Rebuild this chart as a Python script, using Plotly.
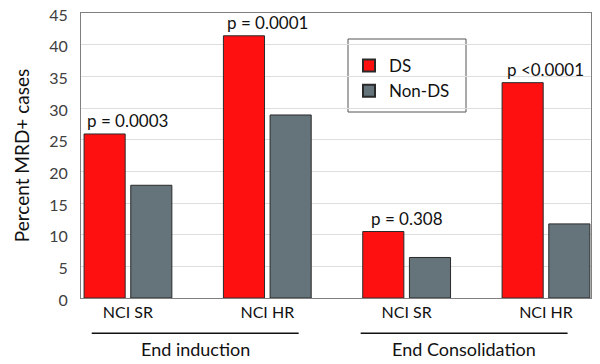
import plotly.graph_objects as go

groups = ["NCI SR", "NCI HR", "NCI SR", "NCI HR"]
phases = ["End induction", "End Consolidation"]
ds_values = [25.9, 41.4, 10.5, 34.0]
nonds_values = [17.8, 28.9, 6.4, 11.7]
p_labels = ["p = 0.0003", "p = 0.0001", "p = 0.308", "p <0.0001"]
yticks = [0, 5, 10, 15, 20, 25, 30, 35, 40, 45]

FONT = "Lato, Open Sans, sans-serif"
xpos = list(range(len(groups)))

fig = go.Figure()
fig.add_trace(go.Bar(
    x=xpos, y=ds_values, name="DS",
    marker=dict(color="#FF1010", line=dict(color="#2a2a2a", width=1)),
    width=0.295, offset=-0.315,
))
fig.add_trace(go.Bar(
    x=xpos, y=nonds_values, name="Non-DS",
    marker=dict(color="#65737A", line=dict(color="#2a2a2a", width=1)),
    width=0.295, offset=0.02,
))

for i, (v, t) in enumerate(zip(ds_values, p_labels)):
    fig.add_annotation(x=i, y=v, text=t, showarrow=False, yanchor="bottom",
                       yshift=1, font=dict(size=17, color="#111111", family=FONT))

# phase labels and underline bars
phase_spans = [(-0.26, 1.225), (1.67, 3.155)]
for (a, b), name in zip(phase_spans, phases):
    fig.add_shape(type="line", xref="x", yref="paper", x0=a, x1=b, y0=-0.124, y1=-0.124,
                  line=dict(color="#111111", width=1.5))
    fig.add_annotation(x=(a + b) / 2, xref="x", y=-0.18, yref="paper", text=name,
                       showarrow=False, yanchor="middle",
                       font=dict(size=18, color="#111111", family=FONT))

# legend box
fig.add_shape(type="rect", xref="paper", yref="paper",
              x0=(348 - 81) / 510, x1=(466 - 81) / 510,
              y0=(298 - 112) / 285, y1=(298 - 39) / 285,
              line=dict(color="#555555", width=1), fillcolor="white", layer="below")

# the page body adds an 8px offset; margins compensate so the plot lands in place
fig.update_layout(
    width=600, height=364,
    margin=dict(l=73, r=17, t=5, b=74, autoexpand=False),
    paper_bgcolor="white", plot_bgcolor="white",
    font=dict(family=FONT, color="#404040"),
    barmode="group",
    showlegend=True,
    legend=dict(x=(349 - 81) / 510, y=(298 - 48) / 285, xanchor="left", yanchor="top",
                bgcolor="rgba(0,0,0,0)", borderwidth=0,
                font=dict(size=17, color="#111111", family=FONT),
                tracegroupgap=0, itemsizing="constant"),
    xaxis=dict(range=[-0.337, 3.323], tickvals=xpos, ticktext=groups,
               tickfont=dict(size=16, color="#111111"), showgrid=False,
               showline=True, linecolor="#7f7f7f", linewidth=1, mirror=True,
               ticks="", ticklen=0, zeroline=False, automargin=False),
    yaxis=dict(range=[0, 45], tickvals=yticks, tickfont=dict(size=16, color="#404040"),
               showgrid=True, gridcolor="#dedede", gridwidth=1,
               showline=True, linecolor="#7f7f7f", linewidth=1, mirror=True,
               ticks="", zeroline=False, automargin=False,
               ticklabelstandoff=9, ticklabeloverflow="allow", ticklabelshift=2,
               title=dict(text="Percent MRD+ cases", font=dict(size=19, color="#111111"),
                          standoff=14)),
)

fig.write_html("out.html")
